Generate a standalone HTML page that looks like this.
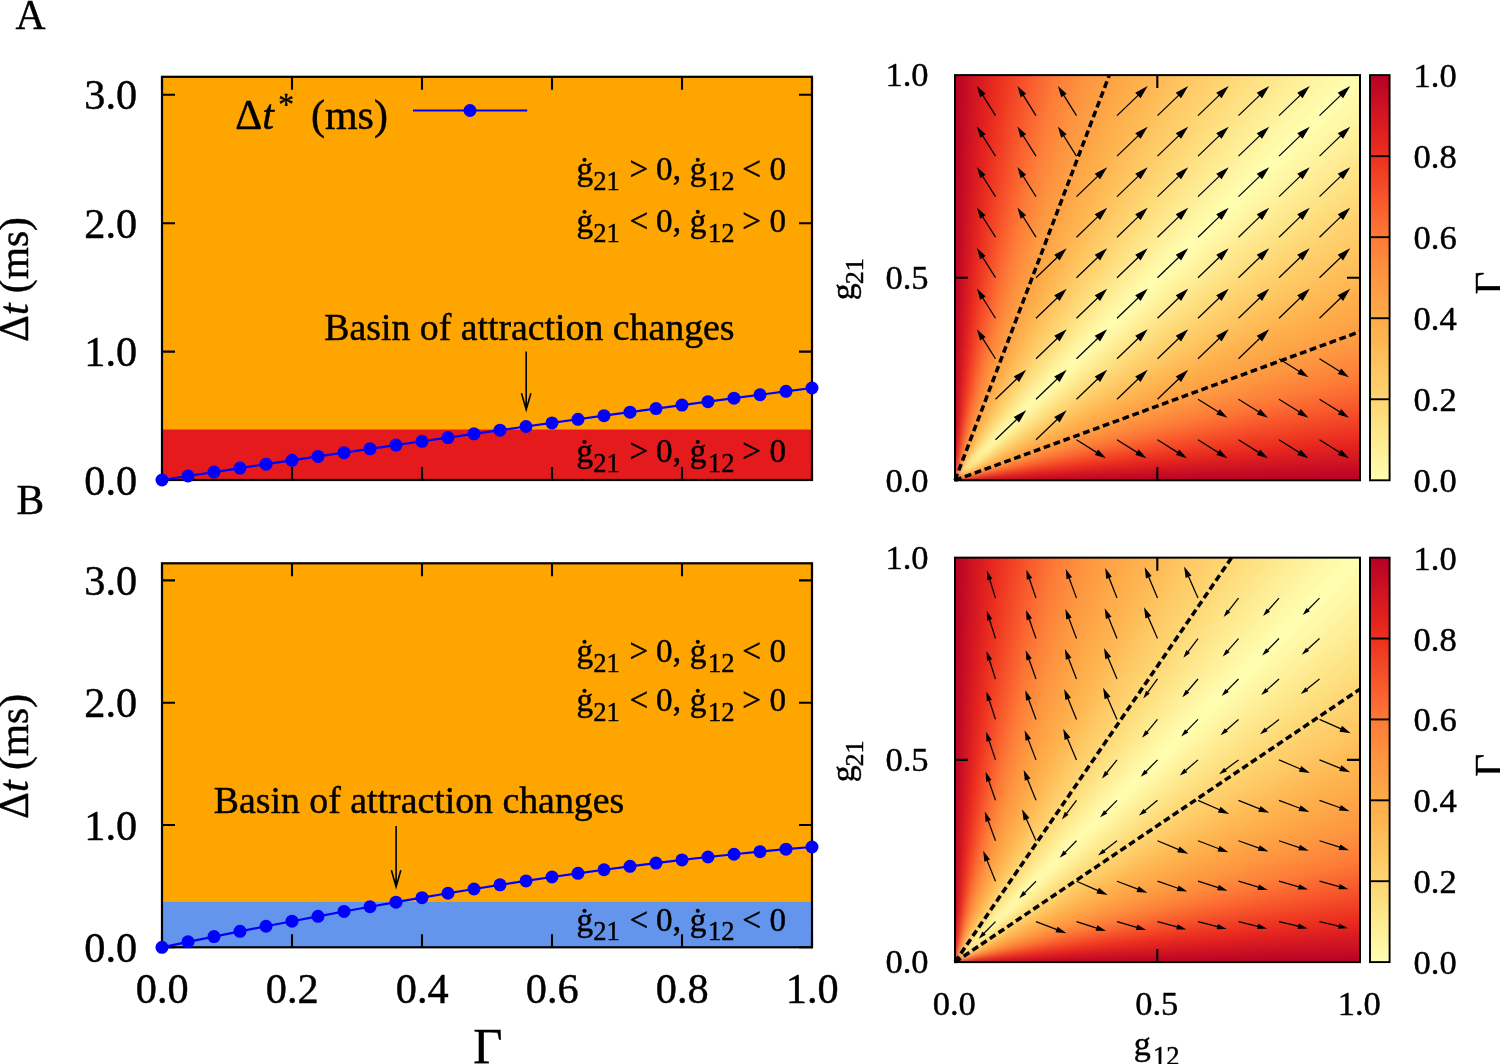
<!DOCTYPE html><html><head><meta charset="utf-8"><title>figure</title><style>
html,body{margin:0;padding:0;background:#fff}
#wrap{position:relative;width:1500px;height:1064px;overflow:hidden;background:#fff;font-family:"Liberation Serif", serif}
.hm{position:absolute;left:955.00px;width:405.00px;overflow:hidden}
.hm i{position:absolute;display:block;left:-30px;top:-30px;right:-30px;bottom:-30px;filter:blur(3.5px);background:conic-gradient(from 0deg at 30px calc(100% - 30px), #b70026 0.00deg, #bc0425 0.50deg, #c10824 1.00deg, #c50c24 1.50deg, #ca0f23 2.00deg, #ce1322 2.50deg, #d31622 3.00deg, #d71a21 3.50deg, #db1d20 4.00deg, #df211f 4.50deg, #e4241f 5.00deg, #e7281f 5.50deg, #ea2d1f 6.00deg, #ec3120 6.50deg, #ee3621 7.00deg, #f03b23 7.50deg, #f14025 8.00deg, #f24526 8.50deg, #f44a28 9.00deg, #f54f29 9.50deg, #f7542b 10.00deg, #f8582c 10.50deg, #f95d2d 11.00deg, #fb622f 11.50deg, #fb6730 12.00deg, #fb6b32 12.50deg, #fc7034 13.00deg, #fc7535 13.50deg, #fd7a36 14.00deg, #fd7d38 14.50deg, #fd8039 15.00deg, #fd843a 15.50deg, #fd873b 16.00deg, #fd8a3c 16.50deg, #fd8d3d 17.00deg, #fd903e 17.50deg, #fd943f 18.00deg, #fd9740 18.50deg, #fd9941 19.00deg, #fd9b42 19.50deg, #fd9d43 20.00deg, #fd9f44 20.50deg, #fea145 21.00deg, #fea446 21.50deg, #fea647 22.00deg, #fea848 22.50deg, #feaa48 23.00deg, #feac4a 23.50deg, #feae4b 24.00deg, #feb04d 24.50deg, #feb24e 25.00deg, #feb450 25.50deg, #feb651 26.00deg, #feb853 26.50deg, #feba55 27.00deg, #febc57 27.50deg, #febe59 28.00deg, #fec05c 28.50deg, #fec25e 29.00deg, #fec560 29.50deg, #fec762 30.00deg, #fec964 30.50deg, #fecb66 31.00deg, #fecd69 31.50deg, #fece6b 32.00deg, #fed06d 32.50deg, #fed26f 33.00deg, #fed471 33.50deg, #fed673 34.00deg, #fed876 34.50deg, #feda78 35.00deg, #fedc7b 35.50deg, #fede7e 36.00deg, #fee081 36.50deg, #fee284 37.00deg, #fee387 37.50deg, #fee589 38.00deg, #fee78c 38.50deg, #fee98f 39.00deg, #feeb92 39.50deg, #ffed95 40.00deg, #ffef98 40.50deg, #fff09b 41.00deg, #fff29e 41.50deg, #fff4a1 42.00deg, #fff6a4 42.50deg, #fff8a6 43.00deg, #fffaa9 43.50deg, #fffbac 44.00deg, #fffdaf 44.50deg, #ffffb2 45.00deg, #fffdaf 45.50deg, #fffbac 46.00deg, #fffaa9 46.50deg, #fff8a6 47.00deg, #fff6a4 47.50deg, #fff4a1 48.00deg, #fff29e 48.50deg, #fff09b 49.00deg, #ffef98 49.50deg, #ffed95 50.00deg, #feeb92 50.50deg, #fee98f 51.00deg, #fee78c 51.50deg, #fee589 52.00deg, #fee387 52.50deg, #fee284 53.00deg, #fee081 53.50deg, #fede7e 54.00deg, #fedc7b 54.50deg, #feda78 55.00deg, #fed876 55.50deg, #fed673 56.00deg, #fed471 56.50deg, #fed26f 57.00deg, #fed06d 57.50deg, #fece6b 58.00deg, #fecd69 58.50deg, #fecb66 59.00deg, #fec964 59.50deg, #fec762 60.00deg, #fec560 60.50deg, #fec25e 61.00deg, #fec05c 61.50deg, #febe59 62.00deg, #febc57 62.50deg, #feba55 63.00deg, #feb853 63.50deg, #feb651 64.00deg, #feb450 64.50deg, #feb24e 65.00deg, #feb04d 65.50deg, #feae4b 66.00deg, #feac4a 66.50deg, #feaa48 67.00deg, #fea848 67.50deg, #fea647 68.00deg, #fea446 68.50deg, #fea145 69.00deg, #fd9f44 69.50deg, #fd9d43 70.00deg, #fd9b42 70.50deg, #fd9941 71.00deg, #fd9740 71.50deg, #fd943f 72.00deg, #fd903e 72.50deg, #fd8d3d 73.00deg, #fd8a3c 73.50deg, #fd873b 74.00deg, #fd843a 74.50deg, #fd8039 75.00deg, #fd7d38 75.50deg, #fd7a36 76.00deg, #fc7535 76.50deg, #fc7034 77.00deg, #fb6b32 77.50deg, #fb6730 78.00deg, #fb622f 78.50deg, #f95d2d 79.00deg, #f8582c 79.50deg, #f7542b 80.00deg, #f54f29 80.50deg, #f44a28 81.00deg, #f24526 81.50deg, #f14025 82.00deg, #f03b23 82.50deg, #ee3621 83.00deg, #ec3120 83.50deg, #ea2d1f 84.00deg, #e7281f 84.50deg, #e4241f 85.00deg, #df211f 85.50deg, #db1d20 86.00deg, #d71a21 86.50deg, #d31622 87.00deg, #ce1322 87.50deg, #ca0f23 88.00deg, #c50c24 88.50deg, #c10824 89.00deg, #bc0425 89.50deg, #b70026 90.00deg)}
svg{position:absolute;left:0;top:0;will-change:transform}
svg text{font-family:"Liberation Serif", serif;fill:#000;stroke:#000;stroke-width:0.45px}
</style></head><body><div id="wrap">
<div class="hm" style="top:75.10px;height:405.20px"><i></i></div>
<div class="hm" style="top:557.65px;height:404.45px"><i></i></div>
<svg width="1500" height="1064" viewBox="0 0 1500 1064">
<defs><linearGradient id="cb" x1="0" y1="0" x2="0" y2="1"><stop offset="0.0000" stop-color="#b70026"/><stop offset="0.0333" stop-color="#c00824"/><stop offset="0.0667" stop-color="#ca0f23"/><stop offset="0.1000" stop-color="#d31722"/><stop offset="0.1333" stop-color="#dc1e20"/><stop offset="0.1667" stop-color="#e5261e"/><stop offset="0.2000" stop-color="#ec301f"/><stop offset="0.2333" stop-color="#f03c23"/><stop offset="0.2667" stop-color="#f34827"/><stop offset="0.3000" stop-color="#f7542b"/><stop offset="0.3333" stop-color="#fa602e"/><stop offset="0.3667" stop-color="#fc6d32"/><stop offset="0.4000" stop-color="#fd7a37"/><stop offset="0.4333" stop-color="#fd833a"/><stop offset="0.4667" stop-color="#fd8d3d"/><stop offset="0.5000" stop-color="#fd9640"/><stop offset="0.5333" stop-color="#fd9d43"/><stop offset="0.5667" stop-color="#fea446"/><stop offset="0.6000" stop-color="#feab49"/><stop offset="0.6333" stop-color="#feb24e"/><stop offset="0.6667" stop-color="#feb853"/><stop offset="0.7000" stop-color="#fec05b"/><stop offset="0.7333" stop-color="#fec762"/><stop offset="0.7667" stop-color="#fece6a"/><stop offset="0.8000" stop-color="#fed572"/><stop offset="0.8333" stop-color="#fedc7b"/><stop offset="0.8667" stop-color="#fee386"/><stop offset="0.9000" stop-color="#feea91"/><stop offset="0.9333" stop-color="#fff19c"/><stop offset="0.9667" stop-color="#fff8a7"/><stop offset="1.0000" stop-color="#ffffb2"/></linearGradient></defs>
<text x="15.60" y="28.70" font-size="41.50" text-anchor="start" >A</text>
<text x="16.40" y="514.40" font-size="41.50" text-anchor="start" >B</text>
<rect x="162.00" y="76.80" width="650.00" height="403.20" fill="#ffa500"/>
<rect x="162.00" y="429.50" width="650.00" height="50.50" fill="#e41a1c"/>
<g stroke="#000" stroke-width="2.1" fill="none"><path d="M162.00 480.00v-13 M162.00 76.80v13"/><path d="M292.00 480.00v-13 M292.00 76.80v13"/><path d="M422.00 480.00v-13 M422.00 76.80v13"/><path d="M552.00 480.00v-13 M552.00 76.80v13"/><path d="M682.00 480.00v-13 M682.00 76.80v13"/><path d="M812.00 480.00v-13 M812.00 76.80v13"/><path d="M162.00 480.00h13 M812.00 480.00h-13"/><path d="M162.00 351.59h13 M812.00 351.59h-13"/><path d="M162.00 223.18h13 M812.00 223.18h-13"/><path d="M162.00 94.78h13 M812.00 94.78h-13"/><rect x="162.00" y="76.80" width="650.00" height="403.20" stroke-width="2.2"/></g>
<text x="137.20" y="494.70" font-size="42.30" text-anchor="end" >0.0</text>
<text x="137.20" y="366.29" font-size="42.30" text-anchor="end" >1.0</text>
<text x="137.20" y="237.88" font-size="42.30" text-anchor="end" >2.0</text>
<text x="137.20" y="109.48" font-size="42.30" text-anchor="end" >3.0</text>
<text transform="translate(28.4,279.40) rotate(-90)" font-size="41.5" text-anchor="middle">Δ<tspan font-style="italic">t</tspan> (ms)</text>
<text x="324.20" y="339.60" font-size="37.80" text-anchor="start" >Basin of attraction changes</text>
<path d="M526.20 351.60V409.70 M521.50 393.20L526.20 409.70L530.90 393.20" stroke="#000" stroke-width="1.6" fill="none"/>
<text x="576.50" y="180.42" font-size="33.20" text-anchor="start" ><tspan x="576.5">ġ</tspan><tspan x="593.3" font-size="26.5" dy="9.8">21</tspan><tspan x="629.6" dy="-9.8">&gt;</tspan><tspan x="656.1">0,</tspan><tspan x="689.7">ġ</tspan><tspan x="707.9" font-size="26.5" dy="9.8">12</tspan><tspan x="742.3" dy="-9.8">&lt;</tspan><tspan x="769.6">0</tspan></text>
<text x="576.50" y="232.04" font-size="33.20" text-anchor="start" ><tspan x="576.5">ġ</tspan><tspan x="593.3" font-size="26.5" dy="9.8">21</tspan><tspan x="629.6" dy="-9.8">&lt;</tspan><tspan x="656.1">0,</tspan><tspan x="689.7">ġ</tspan><tspan x="707.9" font-size="26.5" dy="9.8">12</tspan><tspan x="742.3" dy="-9.8">&gt;</tspan><tspan x="769.6">0</tspan></text>
<text x="576.50" y="462.41" font-size="33.20" text-anchor="start" ><tspan x="576.5">ġ</tspan><tspan x="593.3" font-size="26.5" dy="9.8">21</tspan><tspan x="629.6" dy="-9.8">&gt;</tspan><tspan x="656.1">0,</tspan><tspan x="689.7">ġ</tspan><tspan x="707.9" font-size="26.5" dy="9.8">12</tspan><tspan x="742.3" dy="-9.8">&gt;</tspan><tspan x="769.6">0</tspan></text>
<polyline points="162.00,480.00 188.00,476.01 214.00,472.05 240.00,468.12 266.00,464.20 292.00,460.32 318.00,456.46 344.00,452.63 370.00,448.82 396.00,445.04 422.00,441.28 448.00,437.55 474.00,433.84 500.00,430.16 526.00,426.51 552.00,422.88 578.00,419.28 604.00,415.70 630.00,412.15 656.00,408.62 682.00,405.12 708.00,401.64 734.00,398.20 760.00,394.77 786.00,391.37 812.00,388.00" fill="none" stroke="#0000ff" stroke-width="2.2"/>
<g fill="#0000ff"><circle cx="162.00" cy="480.00" r="6.5"/><circle cx="188.00" cy="476.01" r="6.5"/><circle cx="214.00" cy="472.05" r="6.5"/><circle cx="240.00" cy="468.12" r="6.5"/><circle cx="266.00" cy="464.20" r="6.5"/><circle cx="292.00" cy="460.32" r="6.5"/><circle cx="318.00" cy="456.46" r="6.5"/><circle cx="344.00" cy="452.63" r="6.5"/><circle cx="370.00" cy="448.82" r="6.5"/><circle cx="396.00" cy="445.04" r="6.5"/><circle cx="422.00" cy="441.28" r="6.5"/><circle cx="448.00" cy="437.55" r="6.5"/><circle cx="474.00" cy="433.84" r="6.5"/><circle cx="500.00" cy="430.16" r="6.5"/><circle cx="526.00" cy="426.51" r="6.5"/><circle cx="552.00" cy="422.88" r="6.5"/><circle cx="578.00" cy="419.28" r="6.5"/><circle cx="604.00" cy="415.70" r="6.5"/><circle cx="630.00" cy="412.15" r="6.5"/><circle cx="656.00" cy="408.62" r="6.5"/><circle cx="682.00" cy="405.12" r="6.5"/><circle cx="708.00" cy="401.64" r="6.5"/><circle cx="734.00" cy="398.20" r="6.5"/><circle cx="760.00" cy="394.77" r="6.5"/><circle cx="786.00" cy="391.37" r="6.5"/><circle cx="812.00" cy="388.00" r="6.5"/></g>
<rect x="162.00" y="563.30" width="650.00" height="384.00" fill="#ffa500"/>
<rect x="162.00" y="901.90" width="650.00" height="45.40" fill="#6495ed"/>
<g stroke="#000" stroke-width="2.1" fill="none"><path d="M162.00 947.30v-13 M162.00 563.30v13"/><path d="M292.00 947.30v-13 M292.00 563.30v13"/><path d="M422.00 947.30v-13 M422.00 563.30v13"/><path d="M552.00 947.30v-13 M552.00 563.30v13"/><path d="M682.00 947.30v-13 M682.00 563.30v13"/><path d="M812.00 947.30v-13 M812.00 563.30v13"/><path d="M162.00 947.30h13 M812.00 947.30h-13"/><path d="M162.00 825.01h13 M812.00 825.01h-13"/><path d="M162.00 702.71h13 M812.00 702.71h-13"/><path d="M162.00 580.42h13 M812.00 580.42h-13"/><rect x="162.00" y="563.30" width="650.00" height="384.00" stroke-width="2.2"/></g>
<text x="137.20" y="962.00" font-size="42.30" text-anchor="end" >0.0</text>
<text x="137.20" y="839.71" font-size="42.30" text-anchor="end" >1.0</text>
<text x="137.20" y="717.41" font-size="42.30" text-anchor="end" >2.0</text>
<text x="137.20" y="595.12" font-size="42.30" text-anchor="end" >3.0</text>
<text x="162.30" y="1003.40" font-size="42.30" text-anchor="middle" >0.0</text>
<text x="292.30" y="1003.40" font-size="42.30" text-anchor="middle" >0.2</text>
<text x="422.30" y="1003.40" font-size="42.30" text-anchor="middle" >0.4</text>
<text x="552.30" y="1003.40" font-size="42.30" text-anchor="middle" >0.6</text>
<text x="682.30" y="1003.40" font-size="42.30" text-anchor="middle" >0.8</text>
<text x="812.30" y="1003.40" font-size="42.30" text-anchor="middle" >1.0</text>
<text transform="translate(28.4,756.30) rotate(-90)" font-size="41.5" text-anchor="middle">Δ<tspan font-style="italic">t</tspan> (ms)</text>
<text x="213.80" y="812.60" font-size="37.80" text-anchor="start" >Basin of attraction changes</text>
<path d="M396.10 826.10V886.80 M391.40 870.30L396.10 886.80L400.80 870.30" stroke="#000" stroke-width="1.6" fill="none"/>
<text x="576.50" y="661.99" font-size="33.20" text-anchor="start" ><tspan x="576.5">ġ</tspan><tspan x="593.3" font-size="26.5" dy="9.8">21</tspan><tspan x="629.6" dy="-9.8">&gt;</tspan><tspan x="656.1">0,</tspan><tspan x="689.7">ġ</tspan><tspan x="707.9" font-size="26.5" dy="9.8">12</tspan><tspan x="742.3" dy="-9.8">&lt;</tspan><tspan x="769.6">0</tspan></text>
<text x="576.50" y="711.15" font-size="33.20" text-anchor="start" ><tspan x="576.5">ġ</tspan><tspan x="593.3" font-size="26.5" dy="9.8">21</tspan><tspan x="629.6" dy="-9.8">&lt;</tspan><tspan x="656.1">0,</tspan><tspan x="689.7">ġ</tspan><tspan x="707.9" font-size="26.5" dy="9.8">12</tspan><tspan x="742.3" dy="-9.8">&gt;</tspan><tspan x="769.6">0</tspan></text>
<text x="576.50" y="930.55" font-size="33.20" text-anchor="start" ><tspan x="576.5">ġ</tspan><tspan x="593.3" font-size="26.5" dy="9.8">21</tspan><tspan x="629.6" dy="-9.8">&lt;</tspan><tspan x="656.1">0,</tspan><tspan x="689.7">ġ</tspan><tspan x="707.9" font-size="26.5" dy="9.8">12</tspan><tspan x="742.3" dy="-9.8">&lt;</tspan><tspan x="769.6">0</tspan></text>
<polyline points="162.00,947.30 188.00,941.84 214.00,936.56 240.00,931.36 266.00,926.24 292.00,921.22 318.00,916.30 344.00,911.47 370.00,906.75 396.00,902.14 422.00,897.64 448.00,893.26 474.00,889.00 500.00,884.87 526.00,880.88 552.00,877.02 578.00,873.30 604.00,869.73 630.00,866.31 656.00,863.04 682.00,859.94 708.00,857.00 734.00,854.23 760.00,851.63 786.00,849.22 812.00,846.98" fill="none" stroke="#0000ff" stroke-width="2.2"/>
<g fill="#0000ff"><circle cx="162.00" cy="947.30" r="6.5"/><circle cx="188.00" cy="941.84" r="6.5"/><circle cx="214.00" cy="936.56" r="6.5"/><circle cx="240.00" cy="931.36" r="6.5"/><circle cx="266.00" cy="926.24" r="6.5"/><circle cx="292.00" cy="921.22" r="6.5"/><circle cx="318.00" cy="916.30" r="6.5"/><circle cx="344.00" cy="911.47" r="6.5"/><circle cx="370.00" cy="906.75" r="6.5"/><circle cx="396.00" cy="902.14" r="6.5"/><circle cx="422.00" cy="897.64" r="6.5"/><circle cx="448.00" cy="893.26" r="6.5"/><circle cx="474.00" cy="889.00" r="6.5"/><circle cx="500.00" cy="884.87" r="6.5"/><circle cx="526.00" cy="880.88" r="6.5"/><circle cx="552.00" cy="877.02" r="6.5"/><circle cx="578.00" cy="873.30" r="6.5"/><circle cx="604.00" cy="869.73" r="6.5"/><circle cx="630.00" cy="866.31" r="6.5"/><circle cx="656.00" cy="863.04" r="6.5"/><circle cx="682.00" cy="859.94" r="6.5"/><circle cx="708.00" cy="857.00" r="6.5"/><circle cx="734.00" cy="854.23" r="6.5"/><circle cx="760.00" cy="851.63" r="6.5"/><circle cx="786.00" cy="849.22" r="6.5"/><circle cx="812.00" cy="846.98" r="6.5"/></g>
<text y="128.7" font-size="42"><tspan x="235.3">Δ</tspan><tspan font-style="italic">t</tspan><tspan x="278.3" dy="-14.2" font-size="31.5">*</tspan><tspan x="310.9" dy="14.2">(ms)</tspan></text>
<path d="M413 110.5H527.2" stroke="#0000ff" stroke-width="2.2"/><circle cx="470" cy="110.5" r="6.5" fill="#0000ff"/>
<text x="473.20" y="1063.00" font-size="50.50" text-anchor="start" >Γ</text>
<g><path d="M995.50 439.78L1017.12 419.01" stroke="#000" stroke-width="1.25" fill="none"/><path d="M1026.20 410.28L1019.08 422.49L1013.71 416.91Z" fill="#000"/><path d="M995.50 399.26L1017.12 378.49" stroke="#000" stroke-width="1.25" fill="none"/><path d="M1026.20 369.76L1019.08 381.97L1013.71 376.39Z" fill="#000"/><path d="M995.50 358.74L982.35 337.81" stroke="#000" stroke-width="1.25" fill="none"/><path d="M976.90 329.14L985.62 336.93L980.14 340.38Z" fill="#000"/><path d="M995.50 318.22L982.35 297.29" stroke="#000" stroke-width="1.25" fill="none"/><path d="M976.90 288.62L985.62 296.41L980.14 299.86Z" fill="#000"/><path d="M995.50 277.70L982.35 256.77" stroke="#000" stroke-width="1.25" fill="none"/><path d="M976.90 248.10L985.62 255.89L980.14 259.34Z" fill="#000"/><path d="M995.50 237.18L982.35 216.25" stroke="#000" stroke-width="1.25" fill="none"/><path d="M976.90 207.58L985.62 215.37L980.14 218.82Z" fill="#000"/><path d="M995.50 196.66L982.35 175.73" stroke="#000" stroke-width="1.25" fill="none"/><path d="M976.90 167.06L985.62 174.85L980.14 178.30Z" fill="#000"/><path d="M995.50 156.14L982.35 135.21" stroke="#000" stroke-width="1.25" fill="none"/><path d="M976.90 126.54L985.62 134.33L980.14 137.78Z" fill="#000"/><path d="M995.50 115.62L982.35 94.69" stroke="#000" stroke-width="1.25" fill="none"/><path d="M976.90 86.02L985.62 93.81L980.14 97.26Z" fill="#000"/><path d="M1036.00 439.78L1057.62 419.01" stroke="#000" stroke-width="1.25" fill="none"/><path d="M1066.70 410.28L1059.58 422.49L1054.21 416.91Z" fill="#000"/><path d="M1036.00 399.26L1057.62 378.49" stroke="#000" stroke-width="1.25" fill="none"/><path d="M1066.70 369.76L1059.58 381.97L1054.21 376.39Z" fill="#000"/><path d="M1036.00 358.74L1057.62 337.97" stroke="#000" stroke-width="1.25" fill="none"/><path d="M1066.70 329.24L1059.58 341.45L1054.21 335.87Z" fill="#000"/><path d="M1036.00 318.22L1057.62 297.45" stroke="#000" stroke-width="1.25" fill="none"/><path d="M1066.70 288.72L1059.58 300.93L1054.21 295.35Z" fill="#000"/><path d="M1036.00 277.70L1057.62 256.93" stroke="#000" stroke-width="1.25" fill="none"/><path d="M1066.70 248.20L1059.58 260.41L1054.21 254.83Z" fill="#000"/><path d="M1036.00 237.18L1022.85 216.25" stroke="#000" stroke-width="1.25" fill="none"/><path d="M1017.40 207.58L1026.12 215.37L1020.64 218.82Z" fill="#000"/><path d="M1036.00 196.66L1022.85 175.73" stroke="#000" stroke-width="1.25" fill="none"/><path d="M1017.40 167.06L1026.12 174.85L1020.64 178.30Z" fill="#000"/><path d="M1036.00 156.14L1022.85 135.21" stroke="#000" stroke-width="1.25" fill="none"/><path d="M1017.40 126.54L1026.12 134.33L1020.64 137.78Z" fill="#000"/><path d="M1036.00 115.62L1022.85 94.69" stroke="#000" stroke-width="1.25" fill="none"/><path d="M1017.40 86.02L1026.12 93.81L1020.64 97.26Z" fill="#000"/><path d="M1076.50 439.78L1097.36 452.86" stroke="#000" stroke-width="1.25" fill="none"/><path d="M1106.00 458.28L1094.80 455.06L1098.23 449.60Z" fill="#000"/><path d="M1076.50 399.26L1098.12 378.49" stroke="#000" stroke-width="1.25" fill="none"/><path d="M1107.20 369.76L1100.08 381.97L1094.71 376.39Z" fill="#000"/><path d="M1076.50 358.74L1098.12 337.97" stroke="#000" stroke-width="1.25" fill="none"/><path d="M1107.20 329.24L1100.08 341.45L1094.71 335.87Z" fill="#000"/><path d="M1076.50 318.22L1098.12 297.45" stroke="#000" stroke-width="1.25" fill="none"/><path d="M1107.20 288.72L1100.08 300.93L1094.71 295.35Z" fill="#000"/><path d="M1076.50 277.70L1098.12 256.93" stroke="#000" stroke-width="1.25" fill="none"/><path d="M1107.20 248.20L1100.08 260.41L1094.71 254.83Z" fill="#000"/><path d="M1076.50 237.18L1098.12 216.41" stroke="#000" stroke-width="1.25" fill="none"/><path d="M1107.20 207.68L1100.08 219.89L1094.71 214.31Z" fill="#000"/><path d="M1076.50 196.66L1098.12 175.89" stroke="#000" stroke-width="1.25" fill="none"/><path d="M1107.20 167.16L1100.08 179.37L1094.71 173.79Z" fill="#000"/><path d="M1076.50 156.14L1063.35 135.21" stroke="#000" stroke-width="1.25" fill="none"/><path d="M1057.90 126.54L1066.62 134.33L1061.14 137.78Z" fill="#000"/><path d="M1076.50 115.62L1063.35 94.69" stroke="#000" stroke-width="1.25" fill="none"/><path d="M1057.90 86.02L1066.62 93.81L1061.14 97.26Z" fill="#000"/><path d="M1117.00 439.78L1137.86 452.86" stroke="#000" stroke-width="1.25" fill="none"/><path d="M1146.50 458.28L1135.30 455.06L1138.73 449.60Z" fill="#000"/><path d="M1117.00 399.26L1138.62 378.49" stroke="#000" stroke-width="1.25" fill="none"/><path d="M1147.70 369.76L1140.58 381.97L1135.21 376.39Z" fill="#000"/><path d="M1117.00 358.74L1138.62 337.97" stroke="#000" stroke-width="1.25" fill="none"/><path d="M1147.70 329.24L1140.58 341.45L1135.21 335.87Z" fill="#000"/><path d="M1117.00 318.22L1138.62 297.45" stroke="#000" stroke-width="1.25" fill="none"/><path d="M1147.70 288.72L1140.58 300.93L1135.21 295.35Z" fill="#000"/><path d="M1117.00 277.70L1138.62 256.93" stroke="#000" stroke-width="1.25" fill="none"/><path d="M1147.70 248.20L1140.58 260.41L1135.21 254.83Z" fill="#000"/><path d="M1117.00 237.18L1138.62 216.41" stroke="#000" stroke-width="1.25" fill="none"/><path d="M1147.70 207.68L1140.58 219.89L1135.21 214.31Z" fill="#000"/><path d="M1117.00 196.66L1138.62 175.89" stroke="#000" stroke-width="1.25" fill="none"/><path d="M1147.70 167.16L1140.58 179.37L1135.21 173.79Z" fill="#000"/><path d="M1117.00 156.14L1138.62 135.37" stroke="#000" stroke-width="1.25" fill="none"/><path d="M1147.70 126.64L1140.58 138.85L1135.21 133.27Z" fill="#000"/><path d="M1117.00 115.62L1138.62 94.85" stroke="#000" stroke-width="1.25" fill="none"/><path d="M1147.70 86.12L1140.58 98.33L1135.21 92.75Z" fill="#000"/><path d="M1157.50 439.78L1178.36 452.86" stroke="#000" stroke-width="1.25" fill="none"/><path d="M1187.00 458.28L1175.80 455.06L1179.23 449.60Z" fill="#000"/><path d="M1157.50 399.26L1179.12 378.49" stroke="#000" stroke-width="1.25" fill="none"/><path d="M1188.20 369.76L1181.08 381.97L1175.71 376.39Z" fill="#000"/><path d="M1157.50 358.74L1179.12 337.97" stroke="#000" stroke-width="1.25" fill="none"/><path d="M1188.20 329.24L1181.08 341.45L1175.71 335.87Z" fill="#000"/><path d="M1157.50 318.22L1179.12 297.45" stroke="#000" stroke-width="1.25" fill="none"/><path d="M1188.20 288.72L1181.08 300.93L1175.71 295.35Z" fill="#000"/><path d="M1157.50 277.70L1179.12 256.93" stroke="#000" stroke-width="1.25" fill="none"/><path d="M1188.20 248.20L1181.08 260.41L1175.71 254.83Z" fill="#000"/><path d="M1157.50 237.18L1179.12 216.41" stroke="#000" stroke-width="1.25" fill="none"/><path d="M1188.20 207.68L1181.08 219.89L1175.71 214.31Z" fill="#000"/><path d="M1157.50 196.66L1179.12 175.89" stroke="#000" stroke-width="1.25" fill="none"/><path d="M1188.20 167.16L1181.08 179.37L1175.71 173.79Z" fill="#000"/><path d="M1157.50 156.14L1179.12 135.37" stroke="#000" stroke-width="1.25" fill="none"/><path d="M1188.20 126.64L1181.08 138.85L1175.71 133.27Z" fill="#000"/><path d="M1157.50 115.62L1179.12 94.85" stroke="#000" stroke-width="1.25" fill="none"/><path d="M1188.20 86.12L1181.08 98.33L1175.71 92.75Z" fill="#000"/><path d="M1198.00 439.78L1218.86 452.86" stroke="#000" stroke-width="1.25" fill="none"/><path d="M1227.50 458.28L1216.30 455.06L1219.73 449.60Z" fill="#000"/><path d="M1198.00 399.26L1218.86 412.34" stroke="#000" stroke-width="1.25" fill="none"/><path d="M1227.50 417.76L1216.30 414.54L1219.73 409.08Z" fill="#000"/><path d="M1198.00 358.74L1219.62 337.97" stroke="#000" stroke-width="1.25" fill="none"/><path d="M1228.70 329.24L1221.58 341.45L1216.21 335.87Z" fill="#000"/><path d="M1198.00 318.22L1219.62 297.45" stroke="#000" stroke-width="1.25" fill="none"/><path d="M1228.70 288.72L1221.58 300.93L1216.21 295.35Z" fill="#000"/><path d="M1198.00 277.70L1219.62 256.93" stroke="#000" stroke-width="1.25" fill="none"/><path d="M1228.70 248.20L1221.58 260.41L1216.21 254.83Z" fill="#000"/><path d="M1198.00 237.18L1219.62 216.41" stroke="#000" stroke-width="1.25" fill="none"/><path d="M1228.70 207.68L1221.58 219.89L1216.21 214.31Z" fill="#000"/><path d="M1198.00 196.66L1219.62 175.89" stroke="#000" stroke-width="1.25" fill="none"/><path d="M1228.70 167.16L1221.58 179.37L1216.21 173.79Z" fill="#000"/><path d="M1198.00 156.14L1219.62 135.37" stroke="#000" stroke-width="1.25" fill="none"/><path d="M1228.70 126.64L1221.58 138.85L1216.21 133.27Z" fill="#000"/><path d="M1198.00 115.62L1219.62 94.85" stroke="#000" stroke-width="1.25" fill="none"/><path d="M1228.70 86.12L1221.58 98.33L1216.21 92.75Z" fill="#000"/><path d="M1238.50 439.78L1259.36 452.86" stroke="#000" stroke-width="1.25" fill="none"/><path d="M1268.00 458.28L1256.80 455.06L1260.23 449.60Z" fill="#000"/><path d="M1238.50 399.26L1259.36 412.34" stroke="#000" stroke-width="1.25" fill="none"/><path d="M1268.00 417.76L1256.80 414.54L1260.23 409.08Z" fill="#000"/><path d="M1238.50 358.74L1260.12 337.97" stroke="#000" stroke-width="1.25" fill="none"/><path d="M1269.20 329.24L1262.08 341.45L1256.71 335.87Z" fill="#000"/><path d="M1238.50 318.22L1260.12 297.45" stroke="#000" stroke-width="1.25" fill="none"/><path d="M1269.20 288.72L1262.08 300.93L1256.71 295.35Z" fill="#000"/><path d="M1238.50 277.70L1260.12 256.93" stroke="#000" stroke-width="1.25" fill="none"/><path d="M1269.20 248.20L1262.08 260.41L1256.71 254.83Z" fill="#000"/><path d="M1238.50 237.18L1260.12 216.41" stroke="#000" stroke-width="1.25" fill="none"/><path d="M1269.20 207.68L1262.08 219.89L1256.71 214.31Z" fill="#000"/><path d="M1238.50 196.66L1260.12 175.89" stroke="#000" stroke-width="1.25" fill="none"/><path d="M1269.20 167.16L1262.08 179.37L1256.71 173.79Z" fill="#000"/><path d="M1238.50 156.14L1260.12 135.37" stroke="#000" stroke-width="1.25" fill="none"/><path d="M1269.20 126.64L1262.08 138.85L1256.71 133.27Z" fill="#000"/><path d="M1238.50 115.62L1260.12 94.85" stroke="#000" stroke-width="1.25" fill="none"/><path d="M1269.20 86.12L1262.08 98.33L1256.71 92.75Z" fill="#000"/><path d="M1279.00 439.78L1299.86 452.86" stroke="#000" stroke-width="1.25" fill="none"/><path d="M1308.50 458.28L1297.30 455.06L1300.73 449.60Z" fill="#000"/><path d="M1279.00 399.26L1299.86 412.34" stroke="#000" stroke-width="1.25" fill="none"/><path d="M1308.50 417.76L1297.30 414.54L1300.73 409.08Z" fill="#000"/><path d="M1279.00 358.74L1299.86 371.82" stroke="#000" stroke-width="1.25" fill="none"/><path d="M1308.50 377.24L1297.30 374.02L1300.73 368.56Z" fill="#000"/><path d="M1279.00 318.22L1300.62 297.45" stroke="#000" stroke-width="1.25" fill="none"/><path d="M1309.70 288.72L1302.58 300.93L1297.21 295.35Z" fill="#000"/><path d="M1279.00 277.70L1300.62 256.93" stroke="#000" stroke-width="1.25" fill="none"/><path d="M1309.70 248.20L1302.58 260.41L1297.21 254.83Z" fill="#000"/><path d="M1279.00 237.18L1300.62 216.41" stroke="#000" stroke-width="1.25" fill="none"/><path d="M1309.70 207.68L1302.58 219.89L1297.21 214.31Z" fill="#000"/><path d="M1279.00 196.66L1300.62 175.89" stroke="#000" stroke-width="1.25" fill="none"/><path d="M1309.70 167.16L1302.58 179.37L1297.21 173.79Z" fill="#000"/><path d="M1279.00 156.14L1300.62 135.37" stroke="#000" stroke-width="1.25" fill="none"/><path d="M1309.70 126.64L1302.58 138.85L1297.21 133.27Z" fill="#000"/><path d="M1279.00 115.62L1300.62 94.85" stroke="#000" stroke-width="1.25" fill="none"/><path d="M1309.70 86.12L1302.58 98.33L1297.21 92.75Z" fill="#000"/><path d="M1319.50 439.78L1340.36 452.86" stroke="#000" stroke-width="1.25" fill="none"/><path d="M1349.00 458.28L1337.80 455.06L1341.23 449.60Z" fill="#000"/><path d="M1319.50 399.26L1340.36 412.34" stroke="#000" stroke-width="1.25" fill="none"/><path d="M1349.00 417.76L1337.80 414.54L1341.23 409.08Z" fill="#000"/><path d="M1319.50 358.74L1340.36 371.82" stroke="#000" stroke-width="1.25" fill="none"/><path d="M1349.00 377.24L1337.80 374.02L1341.23 368.56Z" fill="#000"/><path d="M1319.50 318.22L1341.12 297.45" stroke="#000" stroke-width="1.25" fill="none"/><path d="M1350.20 288.72L1343.08 300.93L1337.71 295.35Z" fill="#000"/><path d="M1319.50 277.70L1341.12 256.93" stroke="#000" stroke-width="1.25" fill="none"/><path d="M1350.20 248.20L1343.08 260.41L1337.71 254.83Z" fill="#000"/><path d="M1319.50 237.18L1341.12 216.41" stroke="#000" stroke-width="1.25" fill="none"/><path d="M1350.20 207.68L1343.08 219.89L1337.71 214.31Z" fill="#000"/><path d="M1319.50 196.66L1341.12 175.89" stroke="#000" stroke-width="1.25" fill="none"/><path d="M1350.20 167.16L1343.08 179.37L1337.71 173.79Z" fill="#000"/><path d="M1319.50 156.14L1341.12 135.37" stroke="#000" stroke-width="1.25" fill="none"/><path d="M1350.20 126.64L1343.08 138.85L1337.71 133.27Z" fill="#000"/><path d="M1319.50 115.62L1341.12 94.85" stroke="#000" stroke-width="1.25" fill="none"/><path d="M1350.20 86.12L1343.08 98.33L1337.71 92.75Z" fill="#000"/></g>
<g stroke="#000" stroke-width="3.5" stroke-dasharray="6.8 3.7" fill="none">
<path d="M955.00 480.30L1109.31 75.10"/>
<path d="M955.00 480.30L1360.00 331.59"/>
</g>
<g stroke="#000" stroke-width="2.1" fill="none">
<path d="M1157.30 480.30v-13 M1157.30 75.10v13 M955.00 277.70h13 M1360.00 277.70h-13"/>
<rect x="955.00" y="75.10" width="405.00" height="405.20" stroke-width="2"/>
</g>
<rect x="1370.00" y="75.10" width="19.60" height="405.20" fill="url(#cb)"/>
<g stroke="#000" stroke-width="1.9" fill="none">
<path d="M1370.00 399.26H1389.60"/>
<path d="M1370.00 318.22H1389.60"/>
<path d="M1370.00 237.18H1389.60"/>
<path d="M1370.00 156.14H1389.60"/>
<rect x="1370.00" y="75.10" width="19.60" height="405.20"/>
</g>
<text x="1413.60" y="492.30" font-size="34.50" text-anchor="start" >0.0</text>
<text x="1413.60" y="411.26" font-size="34.50" text-anchor="start" >0.2</text>
<text x="1413.60" y="330.22" font-size="34.50" text-anchor="start" >0.4</text>
<text x="1413.60" y="249.18" font-size="34.50" text-anchor="start" >0.6</text>
<text x="1413.60" y="168.14" font-size="34.50" text-anchor="start" >0.8</text>
<text x="1413.60" y="87.10" font-size="34.50" text-anchor="start" >1.0</text>
<text x="928.60" y="491.60" font-size="34.50" text-anchor="end" >0.0</text>
<text x="928.60" y="289.00" font-size="34.50" text-anchor="end" >0.5</text>
<text x="928.60" y="86.40" font-size="34.50" text-anchor="end" >1.0</text>
<text transform="translate(853.5,279.20) rotate(-90)" font-size="34" text-anchor="middle">g<tspan font-size="26" dy="9.5" dx="-1.1">21</tspan></text>
<text transform="translate(1502,283.10) rotate(-90)" font-size="39.5" text-anchor="middle">Γ</text>
<g><path d="M995.50 921.65L983.49 933.81" stroke="#000" stroke-width="1.25" fill="none"/><path d="M978.71 938.65L982.56 931.48L985.84 934.72Z" fill="#000"/><path d="M995.50 881.21L986.78 859.69" stroke="#000" stroke-width="1.25" fill="none"/><path d="M983.19 850.83L989.99 859.47L984.33 861.76Z" fill="#000"/><path d="M995.50 840.76L987.90 820.07" stroke="#000" stroke-width="1.25" fill="none"/><path d="M984.79 811.58L990.98 820.00L985.51 822.01Z" fill="#000"/><path d="M995.50 800.32L988.46 780.03" stroke="#000" stroke-width="1.25" fill="none"/><path d="M985.59 771.74L991.47 780.05L986.11 781.91Z" fill="#000"/><path d="M995.50 759.88L988.80 739.83" stroke="#000" stroke-width="1.25" fill="none"/><path d="M986.07 731.65L991.77 739.89L986.46 741.67Z" fill="#000"/><path d="M995.50 719.43L989.02 699.55" stroke="#000" stroke-width="1.25" fill="none"/><path d="M986.38 691.45L991.97 699.64L986.70 701.36Z" fill="#000"/><path d="M995.50 678.99L989.19 659.22" stroke="#000" stroke-width="1.25" fill="none"/><path d="M986.61 651.17L992.11 659.34L986.87 661.01Z" fill="#000"/><path d="M995.50 638.54L989.31 618.87" stroke="#000" stroke-width="1.25" fill="none"/><path d="M986.78 610.86L992.22 619.00L987.00 620.64Z" fill="#000"/><path d="M995.50 598.10L989.40 578.49" stroke="#000" stroke-width="1.25" fill="none"/><path d="M986.92 570.51L992.30 578.64L987.09 580.26Z" fill="#000"/><path d="M1036.00 921.65L1057.53 929.86" stroke="#000" stroke-width="1.25" fill="none"/><path d="M1066.38 933.24L1055.51 932.34L1057.67 926.68Z" fill="#000"/><path d="M1036.00 881.21L1023.99 893.36" stroke="#000" stroke-width="1.25" fill="none"/><path d="M1019.21 898.21L1023.06 891.03L1026.34 894.27Z" fill="#000"/><path d="M1036.00 840.76L1026.16 818.42" stroke="#000" stroke-width="1.25" fill="none"/><path d="M1022.10 809.18L1029.49 818.05L1023.64 820.62Z" fill="#000"/><path d="M1036.00 800.32L1027.28 778.80" stroke="#000" stroke-width="1.25" fill="none"/><path d="M1023.69 769.93L1030.49 778.58L1024.83 780.87Z" fill="#000"/><path d="M1036.00 759.88L1027.95 738.85" stroke="#000" stroke-width="1.25" fill="none"/><path d="M1024.65 730.21L1031.08 738.72L1025.54 740.84Z" fill="#000"/><path d="M1036.00 719.43L1028.40 698.73" stroke="#000" stroke-width="1.25" fill="none"/><path d="M1025.29 690.25L1031.48 698.67L1026.01 700.67Z" fill="#000"/><path d="M1036.00 678.99L1028.72 658.52" stroke="#000" stroke-width="1.25" fill="none"/><path d="M1025.74 650.14L1031.76 658.50L1026.35 660.42Z" fill="#000"/><path d="M1036.00 638.54L1028.96 618.25" stroke="#000" stroke-width="1.25" fill="none"/><path d="M1026.09 609.96L1031.97 618.27L1026.61 620.13Z" fill="#000"/><path d="M1036.00 598.10L1029.15 577.94" stroke="#000" stroke-width="1.25" fill="none"/><path d="M1026.35 569.71L1032.14 577.98L1026.80 579.80Z" fill="#000"/><path d="M1076.50 921.65L1097.44 928.35" stroke="#000" stroke-width="1.25" fill="none"/><path d="M1106.03 931.10L1095.61 930.81L1097.38 925.28Z" fill="#000"/><path d="M1076.50 881.21L1098.61 890.93" stroke="#000" stroke-width="1.25" fill="none"/><path d="M1107.74 894.94L1096.42 893.42L1098.97 887.63Z" fill="#000"/><path d="M1076.50 840.76L1064.49 852.92" stroke="#000" stroke-width="1.25" fill="none"/><path d="M1059.71 857.76L1063.56 850.59L1066.84 853.83Z" fill="#000"/><path d="M1076.50 800.32L1066.08 814.05" stroke="#000" stroke-width="1.25" fill="none"/><path d="M1061.92 819.52L1064.83 811.84L1068.53 814.66Z" fill="#000"/><path d="M1076.50 759.88L1067.11 737.86" stroke="#000" stroke-width="1.25" fill="none"/><path d="M1063.23 728.77L1070.39 737.55L1064.62 740.01Z" fill="#000"/><path d="M1076.50 719.43L1067.78 697.91" stroke="#000" stroke-width="1.25" fill="none"/><path d="M1064.19 689.05L1070.99 697.69L1065.33 699.98Z" fill="#000"/><path d="M1076.50 678.99L1068.26 657.82" stroke="#000" stroke-width="1.25" fill="none"/><path d="M1064.88 649.12L1071.41 657.66L1065.84 659.83Z" fill="#000"/><path d="M1076.50 638.54L1068.62 617.63" stroke="#000" stroke-width="1.25" fill="none"/><path d="M1065.39 609.06L1071.73 617.53L1066.22 619.61Z" fill="#000"/><path d="M1076.50 598.10L1068.90 577.40" stroke="#000" stroke-width="1.25" fill="none"/><path d="M1065.79 568.91L1071.98 577.33L1066.51 579.34Z" fill="#000"/><path d="M1117.00 921.65L1137.65 927.60" stroke="#000" stroke-width="1.25" fill="none"/><path d="M1146.10 930.02L1135.91 930.05L1137.48 924.59Z" fill="#000"/><path d="M1117.00 881.21L1138.53 889.42" stroke="#000" stroke-width="1.25" fill="none"/><path d="M1147.38 892.80L1136.51 891.89L1138.67 886.23Z" fill="#000"/><path d="M1117.00 840.76L1103.42 851.34" stroke="#000" stroke-width="1.25" fill="none"/><path d="M1098.00 855.55L1102.78 848.89L1105.64 852.56Z" fill="#000"/><path d="M1117.00 800.32L1104.99 812.47" stroke="#000" stroke-width="1.25" fill="none"/><path d="M1100.21 817.31L1104.06 810.14L1107.34 813.38Z" fill="#000"/><path d="M1117.00 759.88L1106.22 773.25" stroke="#000" stroke-width="1.25" fill="none"/><path d="M1101.93 778.59L1105.04 771.02L1108.66 773.93Z" fill="#000"/><path d="M1117.00 719.43L1107.16 697.09" stroke="#000" stroke-width="1.25" fill="none"/><path d="M1103.10 687.84L1110.49 696.71L1104.64 699.29Z" fill="#000"/><path d="M1117.00 678.99L1107.80 657.11" stroke="#000" stroke-width="1.25" fill="none"/><path d="M1104.01 648.09L1111.06 656.83L1105.32 659.24Z" fill="#000"/><path d="M1117.00 638.54L1108.28 617.02" stroke="#000" stroke-width="1.25" fill="none"/><path d="M1104.69 608.15L1111.49 616.80L1105.83 619.09Z" fill="#000"/><path d="M1117.00 598.10L1108.65 576.85" stroke="#000" stroke-width="1.25" fill="none"/><path d="M1105.22 568.11L1111.82 576.68L1106.22 578.88Z" fill="#000"/><path d="M1157.50 921.65L1177.98 927.14" stroke="#000" stroke-width="1.25" fill="none"/><path d="M1186.34 929.38L1176.29 929.59L1177.74 924.17Z" fill="#000"/><path d="M1157.50 881.21L1178.68 888.51" stroke="#000" stroke-width="1.25" fill="none"/><path d="M1187.37 891.51L1176.77 890.98L1178.69 885.40Z" fill="#000"/><path d="M1157.50 840.76L1179.37 849.88" stroke="#000" stroke-width="1.25" fill="none"/><path d="M1188.40 853.64L1177.26 852.37L1179.65 846.62Z" fill="#000"/><path d="M1157.50 800.32L1144.27 811.24" stroke="#000" stroke-width="1.25" fill="none"/><path d="M1138.99 815.60L1143.56 808.82L1146.51 812.39Z" fill="#000"/><path d="M1157.50 759.88L1145.49 772.03" stroke="#000" stroke-width="1.25" fill="none"/><path d="M1140.71 776.87L1144.56 769.70L1147.84 772.94Z" fill="#000"/><path d="M1157.50 719.43L1146.50 732.59" stroke="#000" stroke-width="1.25" fill="none"/><path d="M1142.12 737.83L1145.36 730.33L1148.92 733.30Z" fill="#000"/><path d="M1157.50 678.99L1147.34 692.97" stroke="#000" stroke-width="1.25" fill="none"/><path d="M1143.29 698.56L1146.04 690.79L1149.81 693.54Z" fill="#000"/><path d="M1157.50 638.54L1147.94 616.40" stroke="#000" stroke-width="1.25" fill="none"/><path d="M1143.99 607.25L1151.24 616.07L1145.44 618.57Z" fill="#000"/><path d="M1157.50 598.10L1148.41 576.30" stroke="#000" stroke-width="1.25" fill="none"/><path d="M1144.66 567.31L1151.65 576.03L1145.93 578.42Z" fill="#000"/><path d="M1198.00 921.65L1218.36 926.84" stroke="#000" stroke-width="1.25" fill="none"/><path d="M1226.67 928.95L1216.71 929.29L1218.08 923.89Z" fill="#000"/><path d="M1198.00 881.21L1218.94 887.91" stroke="#000" stroke-width="1.25" fill="none"/><path d="M1227.53 890.65L1217.11 890.37L1218.88 884.84Z" fill="#000"/><path d="M1198.00 840.76L1219.53 848.97" stroke="#000" stroke-width="1.25" fill="none"/><path d="M1228.38 852.35L1217.51 851.45L1219.67 845.79Z" fill="#000"/><path d="M1198.00 800.32L1220.11 810.04" stroke="#000" stroke-width="1.25" fill="none"/><path d="M1229.24 814.05L1217.92 812.53L1220.47 806.74Z" fill="#000"/><path d="M1198.00 759.88L1184.99 771.02" stroke="#000" stroke-width="1.25" fill="none"/><path d="M1179.81 775.47L1184.24 768.62L1187.26 772.13Z" fill="#000"/><path d="M1198.00 719.43L1185.99 731.58" stroke="#000" stroke-width="1.25" fill="none"/><path d="M1181.21 736.43L1185.06 729.25L1188.34 732.49Z" fill="#000"/><path d="M1198.00 678.99L1186.84 691.99" stroke="#000" stroke-width="1.25" fill="none"/><path d="M1182.40 697.17L1185.74 689.72L1189.25 692.73Z" fill="#000"/><path d="M1198.00 638.54L1187.58 652.27" stroke="#000" stroke-width="1.25" fill="none"/><path d="M1183.42 657.74L1186.33 650.06L1190.03 652.88Z" fill="#000"/><path d="M1198.00 598.10L1188.16 575.75" stroke="#000" stroke-width="1.25" fill="none"/><path d="M1184.10 566.51L1191.49 575.38L1185.64 577.95Z" fill="#000"/><path d="M1238.50 921.65L1258.78 926.62" stroke="#000" stroke-width="1.25" fill="none"/><path d="M1267.05 928.64L1257.15 929.07L1258.47 923.69Z" fill="#000"/><path d="M1238.50 881.21L1259.28 887.47" stroke="#000" stroke-width="1.25" fill="none"/><path d="M1267.78 890.04L1257.49 889.93L1259.15 884.44Z" fill="#000"/><path d="M1238.50 840.76L1259.78 848.33" stroke="#000" stroke-width="1.25" fill="none"/><path d="M1268.52 851.43L1257.84 850.79L1259.83 845.19Z" fill="#000"/><path d="M1238.50 800.32L1260.28 809.18" stroke="#000" stroke-width="1.25" fill="none"/><path d="M1269.25 812.83L1258.19 811.66L1260.51 805.94Z" fill="#000"/><path d="M1238.50 759.88L1224.66 770.18" stroke="#000" stroke-width="1.25" fill="none"/><path d="M1219.14 774.29L1224.07 767.72L1226.85 771.45Z" fill="#000"/><path d="M1238.50 719.43L1225.64 730.73" stroke="#000" stroke-width="1.25" fill="none"/><path d="M1220.52 735.24L1224.87 728.34L1227.92 731.81Z" fill="#000"/><path d="M1238.50 678.99L1226.49 691.14" stroke="#000" stroke-width="1.25" fill="none"/><path d="M1221.71 695.98L1225.56 688.81L1228.84 692.05Z" fill="#000"/><path d="M1238.50 638.54L1227.23 651.43" stroke="#000" stroke-width="1.25" fill="none"/><path d="M1222.74 656.56L1226.15 649.15L1229.63 652.20Z" fill="#000"/><path d="M1238.50 598.10L1227.88 611.63" stroke="#000" stroke-width="1.25" fill="none"/><path d="M1223.64 617.02L1226.67 609.41L1230.32 612.27Z" fill="#000"/><path d="M1279.00 921.65L1299.22 926.46" stroke="#000" stroke-width="1.25" fill="none"/><path d="M1307.45 928.41L1297.61 928.91L1298.88 923.55Z" fill="#000"/><path d="M1279.00 881.21L1299.65 887.15" stroke="#000" stroke-width="1.25" fill="none"/><path d="M1308.10 889.58L1297.91 889.61L1299.48 884.14Z" fill="#000"/><path d="M1279.00 840.76L1300.09 847.84" stroke="#000" stroke-width="1.25" fill="none"/><path d="M1308.74 850.74L1298.21 850.30L1300.08 844.74Z" fill="#000"/><path d="M1279.00 800.32L1300.53 808.53" stroke="#000" stroke-width="1.25" fill="none"/><path d="M1309.38 811.91L1298.51 811.00L1300.67 805.34Z" fill="#000"/><path d="M1279.00 759.88L1300.96 769.22" stroke="#000" stroke-width="1.25" fill="none"/><path d="M1310.03 773.07L1298.82 771.70L1301.27 765.94Z" fill="#000"/><path d="M1279.00 719.43L1265.42 730.00" stroke="#000" stroke-width="1.25" fill="none"/><path d="M1260.00 734.22L1264.78 727.55L1267.64 731.22Z" fill="#000"/><path d="M1279.00 678.99L1266.26 690.40" stroke="#000" stroke-width="1.25" fill="none"/><path d="M1261.18 694.95L1265.46 688.01L1268.54 691.45Z" fill="#000"/><path d="M1279.00 638.54L1266.99 650.69" stroke="#000" stroke-width="1.25" fill="none"/><path d="M1262.21 655.53L1266.06 648.36L1269.34 651.60Z" fill="#000"/><path d="M1279.00 598.10L1267.64 610.90" stroke="#000" stroke-width="1.25" fill="none"/><path d="M1263.12 616.00L1266.58 608.62L1270.04 611.68Z" fill="#000"/><path d="M1319.50 921.65L1339.67 926.33" stroke="#000" stroke-width="1.25" fill="none"/><path d="M1347.88 928.24L1338.07 928.78L1339.31 923.43Z" fill="#000"/><path d="M1319.50 881.21L1340.06 886.90" stroke="#000" stroke-width="1.25" fill="none"/><path d="M1348.45 889.22L1338.34 889.35L1339.85 883.91Z" fill="#000"/><path d="M1319.50 840.76L1340.44 847.46" stroke="#000" stroke-width="1.25" fill="none"/><path d="M1349.03 850.21L1338.61 849.92L1340.38 844.39Z" fill="#000"/><path d="M1319.50 800.32L1340.83 808.03" stroke="#000" stroke-width="1.25" fill="none"/><path d="M1349.60 811.19L1338.88 810.49L1340.91 804.88Z" fill="#000"/><path d="M1319.50 759.88L1341.22 768.59" stroke="#000" stroke-width="1.25" fill="none"/><path d="M1350.17 772.18L1339.15 771.07L1341.44 765.36Z" fill="#000"/><path d="M1319.50 719.43L1341.61 729.15" stroke="#000" stroke-width="1.25" fill="none"/><path d="M1350.74 733.16L1339.42 731.64L1341.97 725.85Z" fill="#000"/><path d="M1319.50 678.99L1306.12 689.76" stroke="#000" stroke-width="1.25" fill="none"/><path d="M1300.78 694.05L1305.44 687.32L1308.35 690.94Z" fill="#000"/><path d="M1319.50 638.54L1306.84 650.04" stroke="#000" stroke-width="1.25" fill="none"/><path d="M1301.80 654.63L1306.03 647.66L1309.14 651.08Z" fill="#000"/><path d="M1319.50 598.10L1307.49 610.25" stroke="#000" stroke-width="1.25" fill="none"/><path d="M1302.71 615.09L1306.56 607.92L1309.84 611.16Z" fill="#000"/></g>
<g stroke="#000" stroke-width="3.5" stroke-dasharray="6.8 3.7" fill="none">
<path d="M955.00 962.10L1231.62 557.65"/>
<path d="M955.00 962.10L1360.00 689.10"/>
</g>
<g stroke="#000" stroke-width="2.1" fill="none">
<path d="M1157.30 962.10v-13 M1157.30 557.65v13 M955.00 759.88h13 M1360.00 759.88h-13"/>
<rect x="955.00" y="557.65" width="405.00" height="404.45" stroke-width="2"/>
</g>
<rect x="1370.00" y="557.65" width="19.60" height="404.45" fill="url(#cb)"/>
<g stroke="#000" stroke-width="1.9" fill="none">
<path d="M1370.00 881.21H1389.60"/>
<path d="M1370.00 800.32H1389.60"/>
<path d="M1370.00 719.43H1389.60"/>
<path d="M1370.00 638.54H1389.60"/>
<rect x="1370.00" y="557.65" width="19.60" height="404.45"/>
</g>
<text x="1413.60" y="974.10" font-size="34.50" text-anchor="start" >0.0</text>
<text x="1413.60" y="893.21" font-size="34.50" text-anchor="start" >0.2</text>
<text x="1413.60" y="812.32" font-size="34.50" text-anchor="start" >0.4</text>
<text x="1413.60" y="731.43" font-size="34.50" text-anchor="start" >0.6</text>
<text x="1413.60" y="650.54" font-size="34.50" text-anchor="start" >0.8</text>
<text x="1413.60" y="569.65" font-size="34.50" text-anchor="start" >1.0</text>
<text x="928.60" y="973.40" font-size="34.50" text-anchor="end" >0.0</text>
<text x="928.60" y="771.17" font-size="34.50" text-anchor="end" >0.5</text>
<text x="928.60" y="568.95" font-size="34.50" text-anchor="end" >1.0</text>
<text x="954.20" y="1015.40" font-size="34.50" text-anchor="middle" >0.0</text>
<text x="1156.70" y="1015.40" font-size="34.50" text-anchor="middle" >0.5</text>
<text x="1359.20" y="1015.40" font-size="34.50" text-anchor="middle" >1.0</text>
<text x="1133.7" y="1055" font-size="34">g<tspan font-size="26.5" dy="9.7" dx="2.4">12</tspan></text>
<text transform="translate(853.5,761.38) rotate(-90)" font-size="34" text-anchor="middle">g<tspan font-size="26" dy="9.5" dx="-1.1">21</tspan></text>
<text transform="translate(1502,765.27) rotate(-90)" font-size="39.5" text-anchor="middle">Γ</text>
</svg></div></body></html>
